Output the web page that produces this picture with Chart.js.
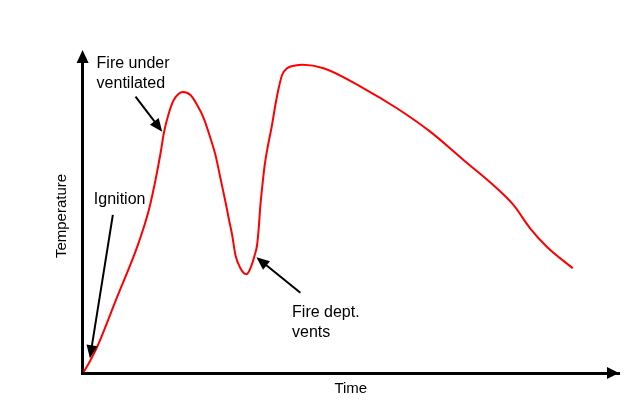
<!DOCTYPE html>
<html>
<head>
<meta charset="utf-8">
<script src="https://cdn.jsdelivr.net/npm/chart.js@4/dist/chart.umd.min.js"></script>
<style>
html,body{margin:0;padding:0;background:#fff;}
#wrap{width:633px;height:412px;}
</style>
</head>
<body>
<div id="wrap"><canvas id="c" width="633" height="412"></canvas></div>
<script>
// Time (arbitrary units) and temperature (arbitrary units)
const timeValues = [0.2, 1.45, 2.74, 6.46, 10.19, 12.35, 13.59, 14.53, 15.14, 16.07, 17.00, 18.7, 20.11, 21.36, 22.59, 23.84, 24.77, 25.70, 26.63, 27.24, 27.88, 28.49, 29.42, 30.54, 31.28, 32.09, 32.53, 32.83, 33.15, 33.46, 33.95, 34.58, 35.20, 35.94, 36.55, 37.19, 38.12, 39.66, 41.0, 44.93, 52.38, 58.60, 64.80, 71.01, 77.22, 80.32, 83.43, 86.54, 91.38];
const temperatureValues = [0.3, 3.9, 8.14, 23.62, 39.10, 50.46, 59.75, 68.02, 74.21, 80.40, 84.52, 87.0, 86.06, 82.96, 78.84, 72.65, 67.48, 60.27, 53.03, 47.89, 42.72, 36.53, 32.41, 30.55, 32.41, 36.53, 39.62, 44.79, 52.00, 57.17, 64.39, 70.58, 75.75, 82.96, 88.13, 92.25, 94.32, 95.2, 95.4, 94.33, 88.14, 81.95, 74.71, 65.94, 57.18, 52.01, 44.80, 39.10, 32.41];
const axisTitles = ['Time', 'Temperature'];

// annotation labels: text lines, label anchor (time, temp), arrow tail and tip (time, temp)
const annotationLabels = [['Fire under', 'ventilated'], ['Ignition'], ['Fire dept.', 'vents']];
const annotationAnchors = [[2.61, 94.43], [2.10, 52.32], [39.05, 17.43]];
const arrowTails = [[9.87, 85.54], [5.64, 48.92], [40.60, 24.86]];
const arrowTips = [[14.84, 74.70], [1.36, 4.55], [32.40, 35.82]];

const points = timeValues.map((t, i) => ({x: t, y: temperatureValues[i]}));

function arrowHead(ctx, x1, y1, x2, y2, len, half) {
  const a = Math.atan2(y2 - y1, x2 - x1);
  ctx.beginPath();
  ctx.moveTo(x2, y2);
  ctx.lineTo(x2 - len * Math.cos(a) + half * Math.sin(a), y2 - len * Math.sin(a) - half * Math.cos(a));
  ctx.lineTo(x2 - len * Math.cos(a) - half * Math.sin(a), y2 - len * Math.sin(a) + half * Math.cos(a));
  ctx.closePath();
  ctx.fill();
}

const overlay = {
  id: 'overlay',
  afterDraw(chart) {
    const ctx = chart.ctx;
    const area = chart.chartArea;
    const xs = chart.scales.x, ys = chart.scales.y;
    ctx.save();
    ctx.fillStyle = '#000';
    ctx.strokeStyle = '#000';
    // axis arrowheads (y arrow extends a little above the plot area)
    ctx.lineWidth = 3;
    ctx.beginPath();
    ctx.moveTo(area.left, area.top + 1);
    ctx.lineTo(area.left, area.top - 4);
    ctx.stroke();
    arrowHead(ctx, area.left, area.bottom, area.left, area.top - 9, 13, 6);
    arrowHead(ctx, area.left, area.bottom, area.right, area.bottom, 12, 6);
    // annotation arrows
    ctx.lineWidth = 2;
    arrowTails.forEach((tail, i) => {
      const x1 = xs.getPixelForValue(tail[0]), y1 = ys.getPixelForValue(tail[1]);
      const x2 = xs.getPixelForValue(arrowTips[i][0]), y2 = ys.getPixelForValue(arrowTips[i][1]);
      const a = Math.atan2(y2 - y1, x2 - x1);
      ctx.beginPath();
      ctx.moveTo(x1, y1);
      ctx.lineTo(x2 - 10 * Math.cos(a), y2 - 10 * Math.sin(a));
      ctx.stroke();
      arrowHead(ctx, x1, y1, x2, y2, 13, 5.5);
    });
    // annotation labels
    ctx.font = '16px "Liberation Sans", Arial, sans-serif';
    ctx.textAlign = 'left';
    ctx.textBaseline = 'alphabetic';
    annotationLabels.forEach((lines, i) => {
      const x = xs.getPixelForValue(annotationAnchors[i][0]);
      const y = ys.getPixelForValue(annotationAnchors[i][1]);
      lines.forEach((line, j) => ctx.fillText(line, x, y + j * 20.5));
    });
    ctx.restore();
  }
};

new Chart(document.getElementById('c'), {
  type: 'line',
  data: {
    datasets: [{
      data: points,
      borderColor: '#ff0000',
      borderWidth: 2,
      pointRadius: 0,
      fill: false,
      cubicInterpolationMode: 'monotone'
    }]
  },
  options: {
    responsive: false,
    animation: false,
    events: [],
    layout: {padding: {left: 52.6, top: 59, right: 14, bottom: 14}},
    plugins: {legend: {display: false}, tooltip: {enabled: false}},
    scales: {
      x: {
        type: 'linear', min: 0, max: 100,
        grid: {display: false, drawTicks: false, tickLength: 0},
        ticks: {display: false},
        border: {display: true, color: '#000', width: 3},
        title: {display: true, text: axisTitles[0], color: '#000',
          font: {family: '"Liberation Sans", Arial, sans-serif', size: 15},
          padding: {top: 7, bottom: 0}}
      },
      y: {
        type: 'linear', min: 0, max: 97.2,
        grid: {display: false, drawTicks: false, tickLength: 0},
        ticks: {display: false},
        border: {display: true, color: '#000', width: 3},
        title: {display: true, text: axisTitles[1], color: '#000',
          font: {family: '"Liberation Sans", Arial, sans-serif', size: 15},
          padding: {top: 0, bottom: 12}}
      }
    }
  },
  plugins: [overlay]
});
</script>
</body>
</html>
